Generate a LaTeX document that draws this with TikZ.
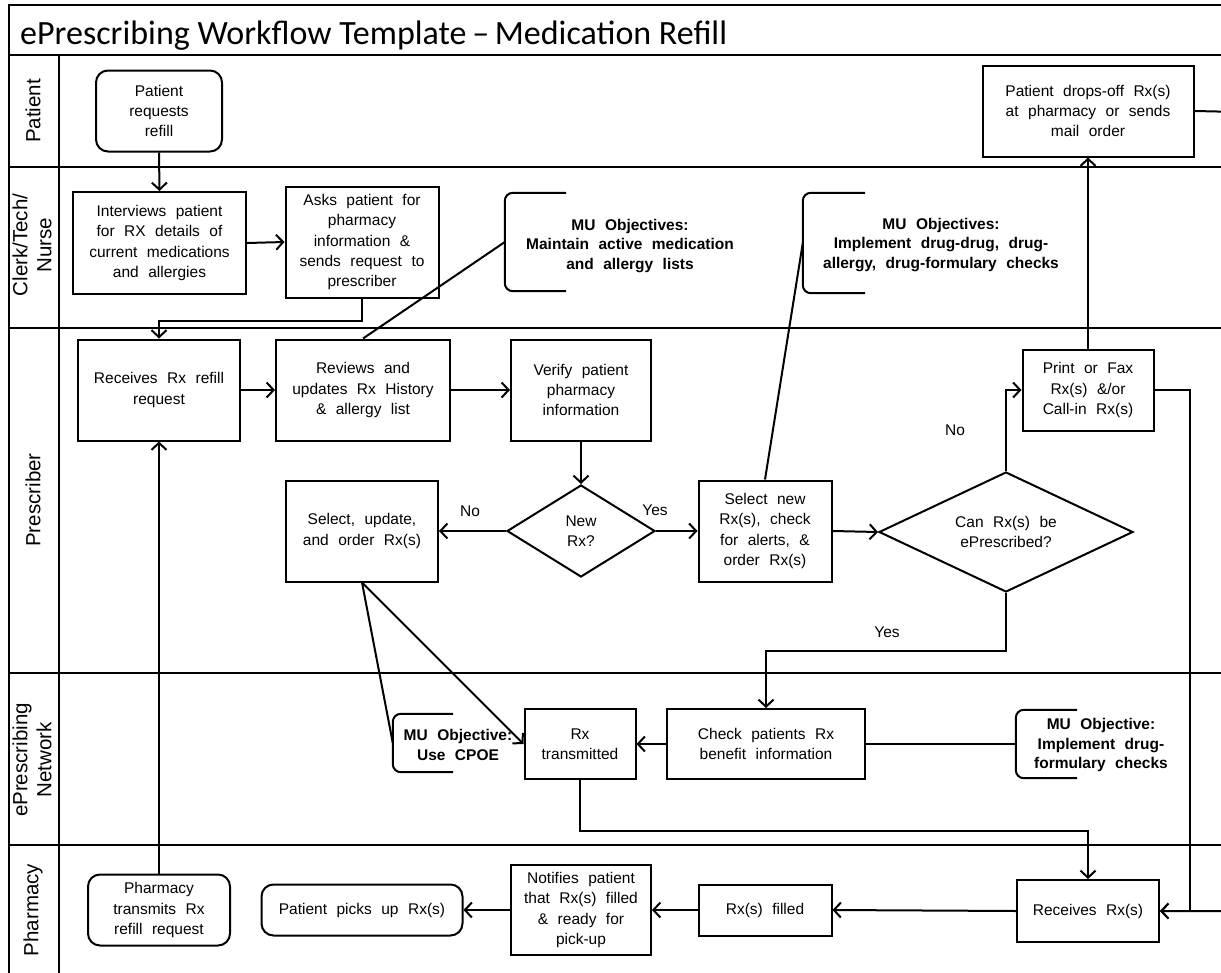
\documentclass[tikz,border=0pt]{standalone}
\usepackage{fontspec}
\setmainfont{Liberation Sans}[WordSpace=2.2]
\newfontfamily\titlefamily{Carlito}
\usetikzlibrary{arrows.meta,shapes.geometric}

\newcommand\flowtxt{\fontsize{15.5}{20.3}\selectfont}
\newcommand\mutxt{\bfseries\fontsize{15.5}{19.5}\selectfont}
\newcommand\lanetxt{\fontsize{20.5}{24}\selectfont}
\newcommand\titletxt{\titlefamily\fontsize{34}{36}\selectfont}

\begin{document}
\begin{tikzpicture}[x=1pt,y=-1pt,
  lane/.style={line width=2.6pt},
  box/.style={draw, line width=2pt, rectangle, inner sep=0pt, align=center, font=\flowtxt},
  rbox/.style={box, rounded corners=12pt},
  dec/.style={draw, line width=2pt, diamond, inner sep=0pt, align=center, font=\flowtxt},
  flow/.style={line width=2pt, -{Straight Barb[length=7pt,width=15pt,line width=2pt]}},
  link/.style={line width=2pt},
  bracket/.style={line width=2pt, rounded corners=8pt},
  mutext/.style={align=center, font=\mutxt, inner sep=0pt},
  lbl/.style={font=\flowtxt, inner sep=0pt},
  lanelbl/.style={font=\lanetxt, rotate=90, align=center, inner sep=0pt},
  hold/.style={rectangle, inner sep=0pt, draw=none},
]
\useasboundingbox (0,0) rectangle (1221,972);

% ---- frame, title band and swimlanes ----
\draw[lane] (1235,5) -- (9,5) -- (9,985);
\foreach \yy in {55,167,328,673,845} \draw[lane] (9,\yy) -- (1235,\yy);
\draw[lane] (59,55) -- (59,985);

\node[anchor=base west, font=\titletxt, inner sep=0pt] (title) at (20,44)
  {ePrescribing Workflow Template\,–\,Medication Refill};

\node[lanelbl] (lpat) at (33,111) {Patient};
\node[lanelbl] (lclk) at (32,245) {Clerk/Tech/\\Nurse};
\node[lanelbl] (lpre) at (33,500) {Prescriber};
\node[lanelbl] (lnet) at (32,760) {ePrescribing\\Network};
\node[lanelbl] (lpha) at (33,910) {Pharmacy};

% ---- Patient lane ----
\node[rbox, minimum width=126, minimum height=81] (pat) at (159,111) {Patient\\requests\\refill};
\node[box, minimum width=211, minimum height=91] (dropoff) at (1088,111) {Patient drops-off Rx(s)\\at pharmacy or sends\\mail order};

% ---- Clerk/Tech/Nurse lane ----
\node[box, minimum width=173, minimum height=102] (interview) at (159.5,243) {Interviews patient\\for RX details of\\current medications\\and allergies};
\node[box, minimum width=153, minimum height=111] (asks) at (362,242) {Asks patient for\\pharmacy\\information \&\\sends request to\\prescriber};

\node[hold, minimum width=61, minimum height=98] (mu1b) at (535.5,242) {};
\node[mutext] (mu1) at (630,246) {MU Objectives:\\Maintain active medication\\and allergy lists};
\node[hold, minimum width=62, minimum height=100] (mu2b) at (834,243) {};
\node[mutext] (mu2) at (941,245) {MU Objectives:\\Implement drug-drug, drug-\\allergy, drug-formulary checks};

% ---- Prescriber lane ----
\node[box, minimum width=162, minimum height=101] (rxreq) at (159,390) {Receives Rx refill\\request};
\node[box, minimum width=174, minimum height=101] (reviews) at (363,390) {Reviews and\\updates Rx History\\\& allergy list};
\node[box, minimum width=140, minimum height=101] (verify) at (581,390) {Verify patient\\pharmacy\\information};
\node[dec, minimum width=148, minimum height=92, shape aspect=1.6] (newrx) at (581,531) {New\\Rx?};
\node[box, minimum width=152, minimum height=101] (selupd) at (362,531) {Select, update,\\and order Rx(s)};
\node[box, minimum width=133, minimum height=101] (selnew) at (765,531) {Select new\\Rx(s), check\\for alerts, \&\\order Rx(s)};
\node[dec, minimum width=254, minimum height=120, shape aspect=2.1] (canrx) at (1006,532) {Can Rx(s) be\\ePrescribed?};
\node[box, minimum width=131, minimum height=81] (printfax) at (1088,390) {Print or Fax\\Rx(s) \&/or\\Call-in Rx(s)};

\node[lbl] (lno1) at (470,511) {No};
\node[lbl] (lyes1) at (655,510) {Yes};
\node[lbl] (lno2) at (955,430) {No};
\node[lbl] (lyes2) at (887,632) {Yes};

% ---- ePrescribing Network lane ----
\node[box, minimum width=111, minimum height=70] (rxtrans) at (580,744) {Rx\\transmitted};
\node[box, minimum width=198, minimum height=70] (check) at (766,744) {Check patients Rx\\benefit information};
\node[hold, minimum width=60, minimum height=58] (mu3b) at (423,743) {};
\node[mutext] (mu3) at (458,745) {MU Objective:\\Use CPOE};
\node[hold, minimum width=61, minimum height=68] (mu4b) at (1046.5,744) {};
\node[mutext] (mu4) at (1101,745) {MU Objective:\\Implement drug-\\formulary checks};

% ---- Pharmacy lane ----
\node[rbox, minimum width=142, minimum height=71] (pharmtx) at (159,910) {Pharmacy\\transmits Rx\\refill request};
\node[rbox, minimum width=201, minimum height=51] (pickup) at (362,910) {Patient picks up Rx(s)};
\node[box, minimum width=140, minimum height=90] (notify) at (581,910) {Notifies patient\\that Rx(s) filled\\\& ready for\\pick-up};
\node[box, minimum width=133, minimum height=51] (filled) at (765,910) {Rx(s) filled};
\node[box, minimum width=142, minimum height=62] (recv) at (1088,911) {Receives Rx(s)};

% ---- annotation brackets ----
\foreach \b in {mu1b,mu2b,mu3b,mu4b}
  \draw[bracket] (\b.north east) -- (\b.north west) -- (\b.south west) -- (\b.south east);

% off-page routing point on the right
\coordinate (offR) at (1240,112);

% ---- connectors ----
\draw[flow] (pat.south) -- (interview.north);
\draw[flow] (interview.east) -- (asks.west);
\draw[flow] (asks.south) -- ++(0,22) -| (rxreq.north);
\draw[link] (mu1b.west) -- (reviews.north);
\draw[link] (mu2b.west) -- (selnew.north);
\draw[flow] (rxreq.east) -- (reviews.west);
\draw[flow] (reviews.east) -- (verify.west);
\draw[flow] (verify.south) -- (newrx.north);
\draw[flow] (newrx.west) -- (selupd.east);
\draw[flow] (newrx.east) -- (selnew.west);
\draw[flow] (selnew.east) -- (canrx.west);
\draw[flow] (canrx.north) |- (printfax.west);
\draw[flow] (canrx.south) -- ++(0,58) -| (check.north);
\draw[flow] (printfax.north) -- (dropoff.south);
\draw[flow] (printfax.east) -- ++(35,0) |- (recv.east);
\draw[flow] (dropoff.east) -- (offR) |- (recv.east);
\draw[link] (selupd.south) -- (mu3b.west);
\draw[flow] (selupd.south) -- (rxtrans.west);
\draw[flow] (check.west) -- (rxtrans.east);
\draw[link] (mu4b.west) -- (check.east);
\draw[flow] (rxtrans.south) -- ++(0,51) -| (recv.north);
\draw[flow] (recv.west) -- (filled.east);
\draw[flow] (filled.west) -- (notify.east);
\draw[flow] (notify.west) -- (pickup.east);
\draw[flow] (pharmtx.north) -- (rxreq.south);
\end{tikzpicture}
\end{document}
